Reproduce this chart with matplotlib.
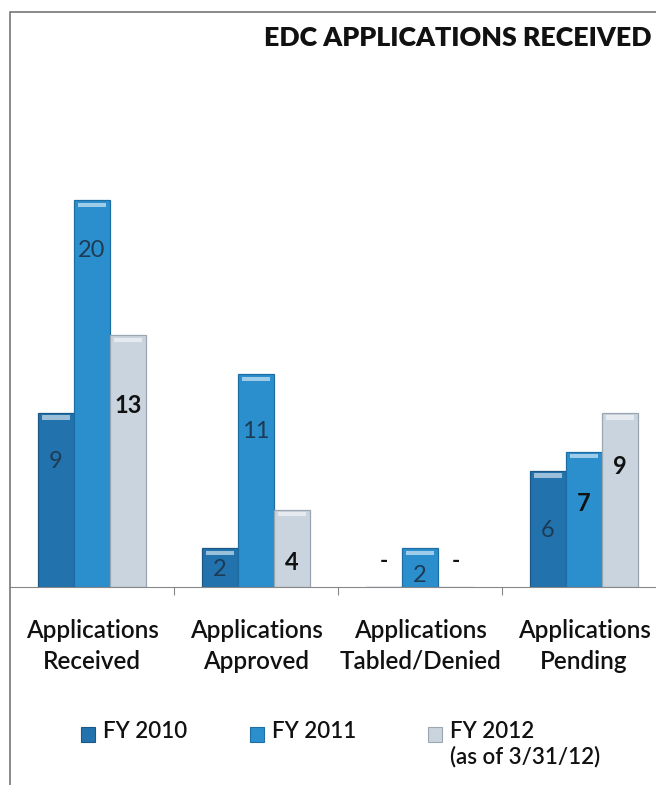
import matplotlib
matplotlib.use("Agg")
from matplotlib import pyplot as plt
from matplotlib.patches import Rectangle
import numpy as np

plt.rcParams["font.family"] = ["Lato", "DejaVu Sans"]

# data
categories = ["Applications\nReceived", "Applications\nApproved",
              "Applications\nTabled/Denied", "Applications\nPending"]
series = ["FY 2010", "FY 2011", "FY 2012\n(as of 3/31/12)"]
fy2010 = [9, 2, 0, 6]
fy2011 = [20, 11, 2, 7]
fy2012 = [13, 4, 0, 9]
values = [fy2010, fy2011, fy2012]

# style
colors = ["#2273ad", "#2b8fce", "#c9d4df"]
edges = ["#1a5784", "#1f6ea3", "#9aa6b2"]
label_colors = [["#1d3b55", "#1d3b55", None, "#1d3b55"],
                ["#1d3b55", "#1d3b55", "#1d3b55", "#111111"],
                ["#111111", "#111111", None, "#111111"]]
label_weights = [["normal", "normal", None, "normal"],
                 ["normal", "normal", "normal", "bold"],
                 ["bold", "bold", None, "bold"]]
label_frac = [[0.72, 0.44, None, 0.49],
              [0.87, 0.73, 0.31, 0.62],
              [0.72, 0.32, None, 0.69]]

fig = plt.figure(figsize=(6.56, 7.85), dpi=100)
W, H = 656, 785
ax = fig.add_axes([10 / W, (H - 587) / H, (W - 10) / W, (587 - 12) / H])

x = np.arange(len(categories))
width = 0.22
ax.set_xlim(-0.5, -0.5 + (W - 10) / 164)
ax.set_ylim(0, (587 - 12) / 19.35)

for i, vals in enumerate(values):
    bars = ax.bar(x + (i - 1) * width, vals, width, color=colors[i],
                  edgecolor=edges[i], linewidth=0.9, zorder=2)
    for j, b in enumerate(bars):
        h = b.get_height()
        if h == 0:
            ax.text(b.get_x() + b.get_width() / 2, 1.3, "-", ha="center",
                    va="center", fontsize=16, fontweight="bold", color="#111111")
            continue
        # light cap at the top of each bar
        ax.add_patch(Rectangle((b.get_x() + 0.12 * width, h - 0.35),
                               0.76 * width, 0.22, color="white", alpha=0.55,
                               lw=0, zorder=3))
        ax.text(b.get_x() + b.get_width() / 2, h * label_frac[i][j], str(vals[j]),
                ha="center", va="center", fontsize=17,
                fontweight=label_weights[i][j], color=label_colors[i][j], zorder=4)

# axes / frame
for s in ["top", "right", "left"]:
    ax.spines[s].set_visible(False)
ax.spines["bottom"].set_color("#888888")
ax.set_yticks([])
ax.set_xticks([0.5, 1.5, 2.5])
ax.set_xticklabels([])
ax.tick_params(axis="x", length=6, color="#888888", direction="out")

for xi, cat in zip(x, categories):
    ax.text(xi, -1.65, cat, ha="center", va="top", fontsize=17.5,
            fontweight="semibold", linespacing=1.4, color="#111111")

# outer chart border
fig.add_artist(Rectangle((10 / W, -0.05), 1.2, 1 - 12 / H + 0.05,
                         transform=fig.transFigure, fill=False,
                         edgecolor="#777777", linewidth=1.2))

fig.text(651 / W, 1 - 38 / H, "EDC APPLICATIONS RECEIVED", ha="right",
         va="center", fontsize=19.3, fontweight="heavy", color="#111111")

# legend
legend_x = [81, 250, 428]
for lx, name, c, e in zip(legend_x, series, colors, edges):
    fig.add_artist(Rectangle((lx / W, 1 - 742 / H), 14 / W, 15 / H,
                             transform=fig.transFigure, facecolor=c,
                             edgecolor=e, linewidth=0.8))
    fig.text((lx + 22) / W, 1 - 721 / H, name, ha="left", va="top",
             fontsize=16, fontweight="semibold", color="#111111",
             linespacing=1.2)

fig.savefig("out.png", dpi=100)
